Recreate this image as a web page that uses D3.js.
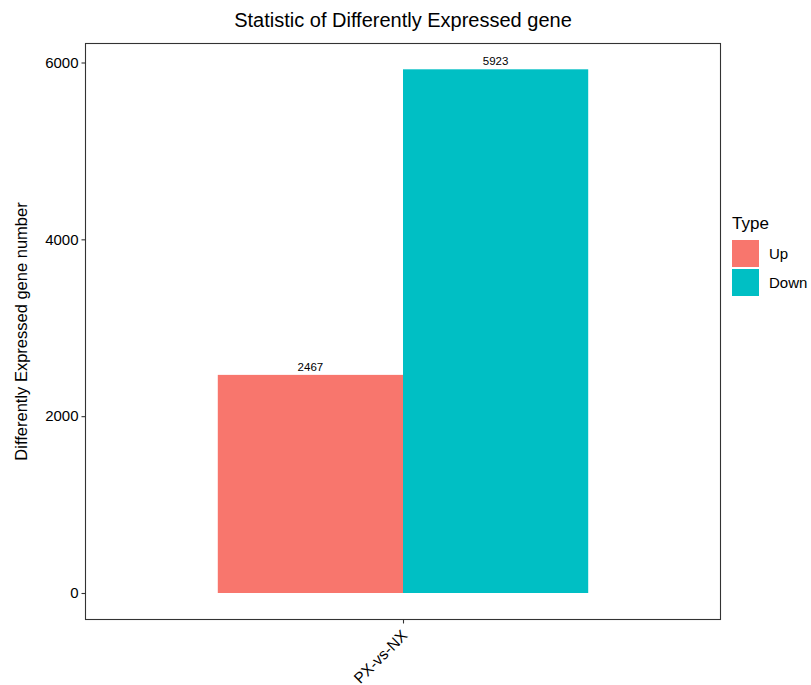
<!DOCTYPE html>
<html><head><meta charset="utf-8">
<script src="https://cdn.jsdelivr.net/npm/d3@7"></script>
<style>body{margin:0;background:#fff}text{font-family:"Liberation Sans",Arial,sans-serif}</style>
</head><body><svg id="c" width="811" height="685"></svg>
<script>
const categories = ["PX-vs-NX"];
const types = ["Up", "Down"];
const upValues = [2467];
const downValues = [5923];
const yTicks = [0, 2000, 4000, 6000];
const colors = ["#F8766D", "#00BFC4"];

const svg = d3.select("#c");
const L = 85.5, R = 720.5, T = 43.5, B = 619.5;

const x = d3.scaleLinear().domain([0.4, 1.6]).range([L, R]);
const y = d3.scaleLinear().domain([0, 6000]).range([593, 62.5]);

const barW = 0.35;
const series = [upValues, downValues];
categories.forEach((c, ci) => {
  series.forEach((vals, si) => {
    const x0 = x(ci + 1 - barW + si * barW), x1 = x(ci + 1 + si * barW);
    svg.append("rect").attr("x", x0).attr("y", y(vals[ci]))
      .attr("width", x1 - x0).attr("height", y(0) - y(vals[ci]))
      .attr("fill", colors[si]);
    svg.append("text").attr("x", (x0 + x1) / 2).attr("y", y(vals[ci]) - 4)
      .attr("text-anchor", "middle").attr("font-size", 11.5).attr("fill", "#000")
      .text(vals[ci]);
  });
});

svg.append("rect").attr("x", L).attr("y", T).attr("width", R - L).attr("height", B - T)
  .attr("fill", "none").attr("stroke", "#333").attr("stroke-width", 1.1);

// y axis
const ya = svg.append("g").attr("transform", `translate(${L},0)`)
  .call(d3.axisLeft(y).tickValues(yTicks).tickSize(4).tickPadding(3).tickFormat(d3.format("d")));
ya.select(".domain").remove();
ya.selectAll("line").attr("stroke", "#333").attr("stroke-width", 1.1);
ya.selectAll("text").attr("font-size", 15).attr("fill", "#000").attr("font-family", "Liberation Sans, Arial, sans-serif");

// x axis
const xa = svg.append("g").attr("transform", `translate(0,${B})`)
  .call(d3.axisBottom(x).tickValues(categories.map((c, i) => i + 1)).tickSize(4)
    .tickFormat((d) => categories[d - 1]));
xa.select(".domain").remove();
xa.selectAll("line").attr("stroke", "#333").attr("stroke-width", 1.1);
xa.selectAll("text").attr("font-size", 15.5).attr("fill", "#000")
  .attr("font-family", "Liberation Sans, Arial, sans-serif")
  .attr("text-anchor", "end").attr("dy", null).attr("y", 0)
  .attr("transform", "translate(-3,9) rotate(-45)").attr("dominant-baseline", "hanging");

// titles
svg.append("text").attr("x", (L + R) / 2).attr("y", 27).attr("text-anchor", "middle")
  .attr("font-size", 20).attr("fill", "#000").text("Statistic of Differently Expressed gene");
svg.append("text").attr("transform", `translate(27,${(T + B) / 2}) rotate(-90)`)
  .attr("text-anchor", "middle").attr("font-size", 16.5).attr("fill", "#000")
  .text("Differently Expressed gene number");

// legend
svg.append("text").attr("x", 732).attr("y", 229).attr("font-size", 17).attr("fill", "#000").text("Type");
types.forEach((t, i) => {
  svg.append("rect").attr("x", 732).attr("y", 240 + i * 29).attr("width", 27).attr("height", 27)
    .attr("fill", colors[i]);
  svg.append("text").attr("x", 769).attr("y", 253.5 + i * 29).attr("dy", "0.35em")
    .attr("font-size", 15).attr("fill", "#000").text(t);
});
</script></body></html>
